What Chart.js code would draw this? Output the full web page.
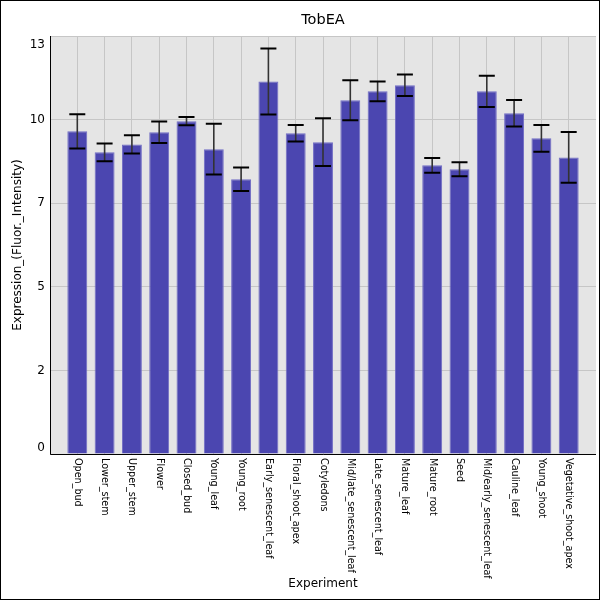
<!DOCTYPE html>
<html>
<head>
<meta charset="utf-8">
<script src="https://cdn.jsdelivr.net/npm/chart.js@4"></script>
<style>
html,body{margin:0;padding:0;background:#fff;}
#wrap{width:600px;height:600px;position:relative;}
</style>
</head>
<body>
<div id="wrap"><canvas id="c" width="600" height="600"></canvas></div>
<script>
const titleText = "TobEA";
const xTitle = "Experiment";
const yTitle = "Expression_(Fluor._Intensity)";
const categories = ["Open_bud","Lower_stem","Upper_stem","Flower","Closed_bud","Young_leaf","Young_root","Early_senescent_leaf","Floral_shoot_apex","Cotyledons","Mid/late_senescent_leaf","Late_senescent_leaf","Mature_leaf","Mature_root","Seed","Mid/early_senescent_leaf","Cauline_leaf","Young_shoot","Vegetative_shoot_apex"];
const values = [10.15,9.49,9.74,10.12,10.47,9.59,8.64,11.72,10.09,9.81,11.13,11.41,11.60,9.08,8.96,11.41,10.72,9.93,9.33];
const errors = [0.54,0.28,0.29,0.34,0.13,0.80,0.37,1.04,0.26,0.75,0.63,0.31,0.34,0.23,0.22,0.49,0.42,0.42,0.80];
const yMax = 13.15;
const yStep = 2.63;
const yTickValues = [0, 2.63, 5.26, 7.89, 10.52, 13.15];

// padded category axis: one empty slot at each end
const labels = [""].concat(categories, [""]);
const barData = [null].concat(values, [null]);

const FONT = "DejaVu Sans";

const decor = {
  id: "decor",
  beforeDraw(chart) {
    const {ctx, chartArea: a} = chart;
    ctx.save();
    ctx.fillStyle = "#e5e5e5";
    ctx.fillRect(a.left, a.top, a.right - a.left, a.bottom - a.top);
    ctx.restore();
  },
  afterDatasetsDraw(chart) {
    const {ctx} = chart;
    const xs = chart.scales.x, ys = chart.scales.y;
    ctx.save();
    values.forEach((v, i) => {
      const e = errors[i];
      const x = xs.getPixelForValue(i + 1);
      const yt = ys.getPixelForValue(v + e);
      const yb = ys.getPixelForValue(v - e);
      ctx.strokeStyle = "#333";
      ctx.lineWidth = 1.6;
      ctx.beginPath();
      ctx.moveTo(x, yt); ctx.lineTo(x, yb);
      ctx.stroke();
      ctx.strokeStyle = "#000";
      ctx.lineWidth = 2;
      ctx.beginPath();
      ctx.moveTo(x - 8, yt); ctx.lineTo(x + 8, yt);
      ctx.moveTo(x - 8, yb); ctx.lineTo(x + 8, yb);
      ctx.stroke();
    });
    ctx.restore();
  },
  afterDraw(chart) {
    const {ctx, chartArea: a} = chart;
    const xs = chart.scales.x, ys = chart.scales.y;
    ctx.save();
    // axis lines
    ctx.strokeStyle = "#000";
    ctx.lineWidth = 1;
    ctx.beginPath();
    ctx.moveTo(a.left + 0.5, a.top);
    ctx.lineTo(a.left + 0.5, a.bottom + 0.5);
    ctx.lineTo(a.right, a.bottom + 0.5);
    ctx.stroke();
    // y tick labels
    ctx.fillStyle = "#000";
    ctx.font = "12px " + FONT;
    ctx.textAlign = "right";
    ctx.textBaseline = "middle";
    yTickValues.forEach((t) => {
      let y = ys.getPixelForValue(t);
      y = Math.min(Math.max(y, a.top + 9), a.bottom - 6);
      ctx.fillText(String(Math.floor(t)), a.left - 5, y);
    });
    // x tick labels (rotated clockwise)
    ctx.font = "9.6px " + FONT;
    ctx.textAlign = "left";
    ctx.textBaseline = "middle";
    categories.forEach((c, i) => {
      const x = xs.getPixelForValue(i + 1);
      ctx.save();
      ctx.translate(x, a.bottom + 4);
      ctx.rotate(Math.PI / 2);
      ctx.fillText(c, 0, 0);
      ctx.restore();
    });
    // titles
    ctx.font = "14.5px " + FONT;
    ctx.textAlign = "center";
    ctx.textBaseline = "middle";
    ctx.fillText(titleText, (a.left + a.right) / 2, 20);
    ctx.font = "12px " + FONT;
    ctx.fillText(xTitle, (a.left + a.right) / 2, 584);
    ctx.save();
    ctx.translate(18, (a.top + a.bottom) / 2);
    ctx.rotate(-Math.PI / 2);
    ctx.fillText(yTitle, 0, 0);
    ctx.restore();
    // outer border
    ctx.strokeStyle = "#000";
    ctx.lineWidth = 1;
    ctx.strokeRect(0.5, 0.5, 599, 599);
    ctx.restore();
  }
};

new Chart(document.getElementById("c"), {
  type: "bar",
  data: {
    labels: labels,
    datasets: [{
      data: barData,
      backgroundColor: "rgb(75,70,176)",
      borderColor: "rgb(112,108,196)",
      borderWidth: 1,
      barPercentage: 0.73,
      categoryPercentage: 1
    }]
  },
  options: {
    responsive: false,
    animation: false,
    devicePixelRatio: 1,
    layout: {padding: {top: 36, left: 0, right: 4, bottom: 0}},
    plugins: {legend: {display: false}, title: {display: false}, tooltip: {enabled: false}},
    scales: {
      x: {
        offset: false,
        grid: {offset: false, color: (c) => (c.index === labels.length - 1 ? "rgba(0,0,0,0)" : "#c6c6c6"), lineWidth: 1, drawTicks: false},
        border: {display: false},
        ticks: {display: false},
        afterFit(s) { s.height = 146; }
      },
      y: {
        min: 0,
        max: yMax,
        grid: {color: "#c6c6c6", lineWidth: 1, drawTicks: false},
        border: {display: false},
        ticks: {display: false, stepSize: yStep},
        afterBuildTicks(s) { s.ticks = yTickValues.map(v => ({value: v})); },
        afterFit(s) { s.width = 50; }
      }
    }
  },
  plugins: [decor]
});
</script>
</body>
</html>
